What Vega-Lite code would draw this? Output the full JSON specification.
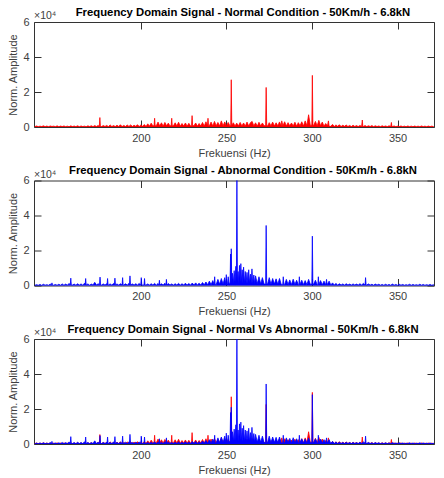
{
  "$schema": "https://vega.github.io/schema/vega-lite/v6.json",
  "padding": {"left": 7, "top": 6, "right": 4, "bottom": 0},
  "spacing": 5.5,
  "config": {
    "font": "Liberation Sans",
    "view": {"stroke": "#333333", "strokeWidth": 1},
    "axis": {"grid": false, "domain": false, "tickColor": "#333333", "tickSize": -7, "tickWidth": 1, "labelFont": "Liberation Sans", "labelFontSize": 11, "labelColor": "#404040", "titleFont": "Liberation Sans", "titleFontSize": 11, "titleFontWeight": "normal", "titleColor": "#404040", "labelPadding": 12},
    "title": {"font": "Liberation Sans", "fontSize": 11.3, "fontWeight": "bold", "color": "#000000", "offset": -7, "dx": 9}
  },
  "datasets": {
    "normal": [
      {"f":138,"a":200},{"f":139,"a":600},{"f":140,"a":150},{"f":141,"a":500},{"f":142,"a":250},{"f":143,"a":650},{"f":144,"a":200},{"f":145,"a":550},{"f":146,"a":150},{"f":147,"a":600},{"f":148,"a":300},{"f":149,"a":500},{"f":150,"a":200},{"f":151,"a":650},{"f":152,"a":150},{"f":153,"a":550},{"f":154,"a":250},{"f":155,"a":600},{"f":156,"a":200},{"f":157,"a":500},{"f":158,"a":150},{"f":159,"a":650},{"f":160,"a":250},{"f":161,"a":550},{"f":162,"a":200},{"f":163,"a":700},{"f":164,"a":150},{"f":165,"a":600},{"f":166,"a":250},{"f":167,"a":500},{"f":168,"a":200},{"f":169,"a":650},{"f":170,"a":300},{"f":171,"a":700},{"f":172,"a":200},{"f":173,"a":800},{"f":174,"a":300},{"f":175,"a":900},{"f":175.7,"a":300},{"f":176,"a":5400},{"f":176.3,"a":300},{"f":177,"a":250},{"f":178,"a":800},{"f":179,"a":300},{"f":180,"a":900},{"f":181,"a":200},{"f":182,"a":1200},{"f":183,"a":300},{"f":184,"a":800},{"f":185,"a":250},{"f":186,"a":1000},{"f":187,"a":300},{"f":188,"a":1300},{"f":189,"a":250},{"f":190,"a":900},{"f":191,"a":300},{"f":192,"a":1100},{"f":193,"a":350},{"f":194,"a":1200},{"f":195,"a":300},{"f":196,"a":1000},{"f":197,"a":400},{"f":198,"a":1300},{"f":199,"a":300},{"f":200,"a":1200},{"f":201,"a":400},{"f":202,"a":1400},{"f":203,"a":300},{"f":204,"a":1800},{"f":205,"a":500},{"f":206,"a":2200},{"f":207,"a":600},{"f":207.7,"a":800},{"f":208,"a":5000},{"f":208.3,"a":700},{"f":209,"a":700},{"f":210,"a":2800},{"f":211,"a":600},{"f":212,"a":2400},{"f":213,"a":500},{"f":214,"a":2600},{"f":215,"a":700},{"f":216,"a":2200},{"f":217,"a":600},{"f":217.7,"a":800},{"f":218,"a":5000},{"f":218.3,"a":700},{"f":219,"a":700},{"f":220,"a":2400},{"f":221,"a":600},{"f":222,"a":2700},{"f":223,"a":500},{"f":224,"a":2000},{"f":225,"a":600},{"f":226,"a":2300},{"f":227,"a":500},{"f":228,"a":2100},{"f":229,"a":600},{"f":229.6,"a":900},{"f":229.9,"a":6500},{"f":230.2,"a":800},{"f":231,"a":700},{"f":232,"a":2300},{"f":233,"a":500},{"f":234,"a":2000},{"f":235,"a":600},{"f":236,"a":2600},{"f":237,"a":500},{"f":238,"a":3000},{"f":238.9,"a":700},{"f":239.2,"a":5000},{"f":239.5,"a":700},{"f":240,"a":700},{"f":241,"a":2800},{"f":242,"a":600},{"f":243,"a":3200},{"f":244,"a":700},{"f":245,"a":2600},{"f":246,"a":600},{"f":247,"a":3500},{"f":248,"a":700},{"f":249,"a":2900},{"f":250,"a":600},{"f":251,"a":2600},{"f":252,"a":700},{"f":252.5,"a":900},{"f":252.8,"a":27000},{"f":253.1,"a":900},{"f":254,"a":2400},{"f":255,"a":600},{"f":256,"a":2200},{"f":257,"a":700},{"f":258,"a":2600},{"f":259,"a":600},{"f":260,"a":2300},{"f":261,"a":500},{"f":262,"a":2800},{"f":263,"a":600},{"f":264,"a":2500},{"f":265,"a":3200},{"f":266,"a":600},{"f":267,"a":2400},{"f":268,"a":500},{"f":269,"a":2700},{"f":270,"a":600},{"f":271,"a":2300},{"f":272,"a":700},{"f":272.9,"a":800},{"f":273.2,"a":22600},{"f":273.5,"a":800},{"f":274,"a":600},{"f":275,"a":2500},{"f":276,"a":700},{"f":277,"a":2800},{"f":278,"a":600},{"f":279,"a":2400},{"f":280,"a":700},{"f":281,"a":2900},{"f":282,"a":700},{"f":282.3,"a":3500},{"f":283,"a":700},{"f":284,"a":3000},{"f":285,"a":600},{"f":286,"a":2500},{"f":287,"a":700},{"f":288,"a":2300},{"f":289,"a":600},{"f":290,"a":2700},{"f":291,"a":500},{"f":292,"a":2500},{"f":293,"a":700},{"f":294,"a":3000},{"f":295,"a":600},{"f":296,"a":3500},{"f":297,"a":700},{"f":298,"a":7000},{"f":299,"a":900},{"f":299.9,"a":1200},{"f":300.2,"a":29500},{"f":300.5,"a":1200},{"f":301,"a":1000},{"f":302,"a":3200},{"f":303,"a":600},{"f":304,"a":3800},{"f":305,"a":700},{"f":306,"a":2800},{"f":307,"a":500},{"f":308,"a":2000},{"f":309,"a":600},{"f":309.6,"a":3500},{"f":310,"a":400},{"f":311,"a":400},{"f":312,"a":1500},{"f":313,"a":300},{"f":314,"a":1200},{"f":315,"a":400},{"f":316,"a":1300},{"f":317,"a":300},{"f":318,"a":1000},{"f":319,"a":400},{"f":320,"a":1100},{"f":321,"a":300},{"f":322,"a":900},{"f":323,"a":250},{"f":324,"a":1000},{"f":325,"a":300},{"f":326,"a":800},{"f":327,"a":250},{"f":328,"a":900},{"f":329,"a":300},{"f":329.4,"a":4000},{"f":329.7,"a":300},{"f":330,"a":300},{"f":331,"a":800},{"f":332,"a":250},{"f":333,"a":700},{"f":334,"a":300},{"f":335,"a":800},{"f":336,"a":200},{"f":337,"a":700},{"f":338,"a":250},{"f":339,"a":600},{"f":340,"a":200},{"f":341,"a":700},{"f":342,"a":250},{"f":343,"a":600},{"f":344,"a":200},{"f":345,"a":700},{"f":346,"a":250},{"f":346.4,"a":2600},{"f":346.7,"a":250},{"f":347,"a":250},{"f":348,"a":600},{"f":349,"a":200},{"f":350,"a":500},{"f":351,"a":250},{"f":352,"a":600},{"f":353,"a":200},{"f":354,"a":500},{"f":355,"a":150},{"f":356,"a":600},{"f":357,"a":200},{"f":358,"a":500},{"f":359,"a":150},{"f":360,"a":550},{"f":361,"a":200},{"f":362,"a":500},{"f":363,"a":150},{"f":364,"a":600},{"f":365,"a":200},{"f":366,"a":500},{"f":367,"a":150},{"f":368,"a":550},{"f":369,"a":200},{"f":370,"a":500},{"f":371,"a":200}
    ],
    "abnormal": [
      {"f":138,"a":100},{"f":139,"a":500},{"f":140,"a":150},{"f":141,"a":600},{"f":142,"a":100},{"f":143,"a":700},{"f":144,"a":200},{"f":145,"a":500},{"f":146,"a":150},{"f":147,"a":800},{"f":147.7,"a":200},{"f":148,"a":1500},{"f":148.3,"a":200},{"f":149,"a":200},{"f":150,"a":600},{"f":151,"a":150},{"f":152,"a":700},{"f":153,"a":200},{"f":154,"a":900},{"f":155,"a":150},{"f":156,"a":800},{"f":157,"a":200},{"f":158,"a":1200},{"f":158.7,"a":300},{"f":159,"a":4200},{"f":159.3,"a":300},{"f":160,"a":300},{"f":161,"a":800},{"f":162,"a":200},{"f":163,"a":1000},{"f":164,"a":250},{"f":165,"a":900},{"f":166,"a":200},{"f":167,"a":1300},{"f":167.4,"a":300},{"f":167.7,"a":4000},{"f":168,"a":300},{"f":169,"a":900},{"f":170,"a":200},{"f":171,"a":800},{"f":172,"a":250},{"f":173,"a":1800},{"f":174,"a":300},{"f":175,"a":1000},{"f":175.8,"a":300},{"f":176.1,"a":4800},{"f":176.4,"a":300},{"f":177,"a":300},{"f":178,"a":900},{"f":179,"a":250},{"f":180,"a":1000},{"f":180.2,"a":300},{"f":180.5,"a":4000},{"f":180.8,"a":300},{"f":181,"a":300},{"f":182,"a":900},{"f":183,"a":250},{"f":184,"a":1200},{"f":184.5,"a":300},{"f":184.8,"a":4200},{"f":185.1,"a":300},{"f":186,"a":900},{"f":187,"a":250},{"f":188,"a":1000},{"f":189,"a":300},{"f":189.3,"a":4500},{"f":189.6,"a":300},{"f":190,"a":300},{"f":191,"a":1000},{"f":192,"a":250},{"f":193,"a":1200},{"f":193.3,"a":300},{"f":193.6,"a":5500},{"f":193.9,"a":300},{"f":195,"a":900},{"f":196,"a":250},{"f":197,"a":1000},{"f":198,"a":300},{"f":199,"a":1200},{"f":199.9,"a":300},{"f":200.2,"a":4500},{"f":200.5,"a":300},{"f":201,"a":300},{"f":201.8,"a":300},{"f":202.1,"a":4000},{"f":202.4,"a":300},{"f":203,"a":300},{"f":204,"a":900},{"f":205,"a":250},{"f":206,"a":1000},{"f":207,"a":300},{"f":208,"a":1200},{"f":209,"a":250},{"f":210,"a":1100},{"f":210.5,"a":300},{"f":210.8,"a":3000},{"f":211.1,"a":300},{"f":212,"a":1000},{"f":213,"a":250},{"f":214,"a":1300},{"f":214.6,"a":300},{"f":214.9,"a":3500},{"f":215.2,"a":300},{"f":216,"a":1100},{"f":217,"a":300},{"f":218,"a":900},{"f":219,"a":250},{"f":220,"a":1000},{"f":221,"a":300},{"f":222,"a":1200},{"f":223,"a":250},{"f":224,"a":1000},{"f":225,"a":300},{"f":226,"a":1300},{"f":227,"a":300},{"f":228,"a":1100},{"f":229,"a":250},{"f":230,"a":1400},{"f":231,"a":300},{"f":232,"a":1500},{"f":233,"a":350},{"f":234,"a":1300},{"f":235,"a":300},{"f":236,"a":1700},{"f":237,"a":400},{"f":238,"a":2000},{"f":239,"a":400},{"f":240,"a":2500},{"f":241,"a":500},{"f":242,"a":2800},{"f":242.8,"a":600},{"f":243.1,"a":5000},{"f":243.4,"a":600},{"f":244,"a":600},{"f":245,"a":3500},{"f":246,"a":700},{"f":247,"a":4000},{"f":248,"a":800},{"f":249,"a":4500},{"f":249.6,"a":900},{"f":249.9,"a":6200},{"f":250.2,"a":1000},{"f":250.6,"a":1000},{"f":251,"a":5000},{"f":251.5,"a":1200},{"f":252.1,"a":1500},{"f":252.4,"a":18000},{"f":252.6,"a":1500},{"f":252.8,"a":21000},{"f":253.1,"a":1500},{"f":253.5,"a":7000},{"f":254,"a":1500},{"f":254.5,"a":8500},{"f":255,"a":2000},{"f":255.5,"a":11000},{"f":255.8,"a":2000},{"f":256.1,"a":62000},{"f":256.4,"a":2000},{"f":256.8,"a":8000},{"f":257.2,"a":1500},{"f":257.6,"a":11500},{"f":258,"a":2000},{"f":258.4,"a":12500},{"f":258.8,"a":1800},{"f":259.2,"a":9000},{"f":259.6,"a":1500},{"f":260,"a":10500},{"f":260.5,"a":1500},{"f":261,"a":8000},{"f":261.5,"a":1500},{"f":262,"a":7500},{"f":262.5,"a":1200},{"f":263,"a":9000},{"f":263.5,"a":1400},{"f":264,"a":6500},{"f":264.5,"a":1200},{"f":264.9,"a":9500},{"f":265.3,"a":1200},{"f":266,"a":6000},{"f":266.5,"a":1000},{"f":267,"a":5500},{"f":268,"a":1000},{"f":269,"a":5000},{"f":270,"a":900},{"f":271,"a":4500},{"f":272,"a":800},{"f":272.9,"a":800},{"f":273.2,"a":34300},{"f":273.5,"a":800},{"f":274,"a":800},{"f":275,"a":4500},{"f":276,"a":700},{"f":277,"a":4000},{"f":278,"a":800},{"f":279,"a":3800},{"f":280,"a":700},{"f":281,"a":4000},{"f":282,"a":600},{"f":282.9,"a":600},{"f":283.2,"a":5000},{"f":283.5,"a":600},{"f":284,"a":600},{"f":285,"a":3500},{"f":286,"a":600},{"f":287,"a":3200},{"f":288,"a":500},{"f":289,"a":3600},{"f":290,"a":600},{"f":291,"a":3000},{"f":292,"a":500},{"f":292.3,"a":500},{"f":292.6,"a":5000},{"f":292.9,"a":500},{"f":294,"a":3000},{"f":295,"a":500},{"f":296,"a":2800},{"f":297,"a":500},{"f":298,"a":3500},{"f":299,"a":700},{"f":299.9,"a":900},{"f":300.2,"a":28200},{"f":300.5,"a":900},{"f":301,"a":800},{"f":302,"a":3000},{"f":303,"a":500},{"f":303.4,"a":500},{"f":303.7,"a":5000},{"f":304,"a":600},{"f":305,"a":2800},{"f":306,"a":400},{"f":307,"a":2500},{"f":308,"a":400},{"f":308.5,"a":3500},{"f":308.8,"a":400},{"f":310,"a":2500},{"f":311,"a":300},{"f":312,"a":1500},{"f":313,"a":300},{"f":314,"a":1200},{"f":315,"a":250},{"f":316,"a":1000},{"f":317,"a":300},{"f":318,"a":900},{"f":319,"a":250},{"f":320,"a":1000},{"f":321,"a":300},{"f":322,"a":800},{"f":323,"a":250},{"f":324,"a":900},{"f":325,"a":300},{"f":326,"a":800},{"f":327,"a":250},{"f":328,"a":1000},{"f":329,"a":300},{"f":330,"a":1200},{"f":331,"a":300},{"f":331.3,"a":4500},{"f":331.6,"a":300},{"f":332,"a":300},{"f":333,"a":900},{"f":334,"a":250},{"f":335,"a":700},{"f":336,"a":200},{"f":337,"a":800},{"f":338,"a":250},{"f":339,"a":700},{"f":340,"a":200},{"f":341,"a":600},{"f":342,"a":150},{"f":343,"a":700},{"f":344,"a":200},{"f":345,"a":600},{"f":346,"a":150},{"f":347,"a":800},{"f":348,"a":200},{"f":349,"a":600},{"f":350,"a":150},{"f":351,"a":700},{"f":352,"a":200},{"f":353,"a":600},{"f":354,"a":150},{"f":355,"a":500},{"f":356,"a":200},{"f":357,"a":700},{"f":358,"a":150},{"f":359,"a":600},{"f":360,"a":200},{"f":361,"a":500},{"f":362,"a":150},{"f":363,"a":700},{"f":364,"a":200},{"f":365,"a":600},{"f":366,"a":150},{"f":367,"a":500},{"f":368,"a":200},{"f":369,"a":600},{"f":370,"a":150},{"f":371,"a":500}
    ],
    "exp": [{"t": "×10⁴"}]
  },
  "vconcat": [
    {
      "width": 400, "height": 105,
      "title": "Frequency Domain Signal - Normal Condition - 50Km/h - 6.8kN",
      "resolve": {"axis": {"x": "independent", "y": "independent"}},
      "layer": [
        {
          "data": {"name": "normal"},
          "mark": {"type": "area", "color": "#ff0000", "stroke": "#ff0000", "strokeWidth": 0.8, "clip": true},
          "encoding": {
            "x": {"field": "f", "type": "quantitative", "scale": {"domain": [137.5, 371.3], "nice": false, "zero": false}, "axis": {"orient": "bottom", "values": [200, 250, 300, 350], "title": "Frekuensi (Hz)"}},
            "y": {"field": "a", "type": "quantitative", "scale": {"domain": [0, 60000], "nice": false}, "axis": {"orient": "left", "values": [0, 20000, 40000, 60000], "labelExpr": "datum.value / 10000", "title": "Norm. Amplitude"}}
          }
        },
        {
          "data": {"name": "exp"},
          "mark": {"type": "text", "align": "left", "baseline": "bottom", "dy": -1, "fontSize": 10.5, "color": "#404040"},
          "encoding": {
            "x": {"datum": 137.5, "type": "quantitative", "axis": {"orient": "top", "values": [200, 250, 300, 350], "labels": false, "title": null}},
            "y": {"datum": 60000, "type": "quantitative", "axis": {"orient": "right", "values": [0, 20000, 40000, 60000], "labels": false, "title": null}},
            "text": {"field": "t"}
          }
        }
      ]
    },
    {
      "width": 400, "height": 105,
      "title": "Frequency Domain Signal - Abnormal Condition - 50Km/h - 6.8kN",
      "resolve": {"axis": {"x": "independent", "y": "independent"}},
      "layer": [
        {
          "data": {"name": "abnormal"},
          "mark": {"type": "area", "color": "#0000ff", "stroke": "#0000ff", "strokeWidth": 0.8, "clip": true},
          "encoding": {
            "x": {"field": "f", "type": "quantitative", "scale": {"domain": [137.5, 371.3], "nice": false, "zero": false}, "axis": {"orient": "bottom", "values": [200, 250, 300, 350], "title": "Frekuensi (Hz)"}},
            "y": {"field": "a", "type": "quantitative", "scale": {"domain": [0, 60000], "nice": false}, "axis": {"orient": "left", "values": [0, 20000, 40000, 60000], "labelExpr": "datum.value / 10000", "title": "Norm. Amplitude"}}
          }
        },
        {
          "data": {"name": "exp"},
          "mark": {"type": "text", "align": "left", "baseline": "bottom", "dy": -1, "fontSize": 10.5, "color": "#404040"},
          "encoding": {
            "x": {"datum": 137.5, "type": "quantitative", "axis": {"orient": "top", "values": [200, 250, 300, 350], "labels": false, "title": null}},
            "y": {"datum": 60000, "type": "quantitative", "axis": {"orient": "right", "values": [0, 20000, 40000, 60000], "labels": false, "title": null}},
            "text": {"field": "t"}
          }
        }
      ]
    },
    {
      "width": 400, "height": 105,
      "title": "Frequency Domain Signal - Normal Vs Abnormal - 50Km/h - 6.8kN",
      "resolve": {"axis": {"x": "independent", "y": "independent"}},
      "layer": [
        {
          "data": {"name": "normal"},
          "mark": {"type": "area", "color": "#ff0000", "stroke": "#ff0000", "strokeWidth": 0.8, "clip": true},
          "encoding": {
            "x": {"field": "f", "type": "quantitative", "scale": {"domain": [137.5, 371.3], "nice": false, "zero": false}, "axis": {"orient": "bottom", "values": [200, 250, 300, 350], "title": "Frekuensi (Hz)"}},
            "y": {"field": "a", "type": "quantitative", "scale": {"domain": [0, 60000], "nice": false}, "axis": {"orient": "left", "values": [0, 20000, 40000, 60000], "labelExpr": "datum.value / 10000", "title": "Norm. Amplitude"}}
          }
        },
        {
          "data": {"name": "abnormal"},
          "mark": {"type": "area", "color": "#0000ff", "stroke": "#0000ff", "strokeWidth": 0.8, "clip": true},
          "encoding": {
            "x": {"field": "f", "type": "quantitative", "axis": null},
            "y": {"field": "a", "type": "quantitative", "axis": null}
          }
        },
        {
          "data": {"name": "exp"},
          "mark": {"type": "text", "align": "left", "baseline": "bottom", "dy": -1, "fontSize": 10.5, "color": "#404040"},
          "encoding": {
            "x": {"datum": 137.5, "type": "quantitative", "axis": {"orient": "top", "values": [200, 250, 300, 350], "labels": false, "title": null}},
            "y": {"datum": 60000, "type": "quantitative", "axis": {"orient": "right", "values": [0, 20000, 40000, 60000], "labels": false, "title": null}},
            "text": {"field": "t"}
          }
        }
      ]
    }
  ]
}
